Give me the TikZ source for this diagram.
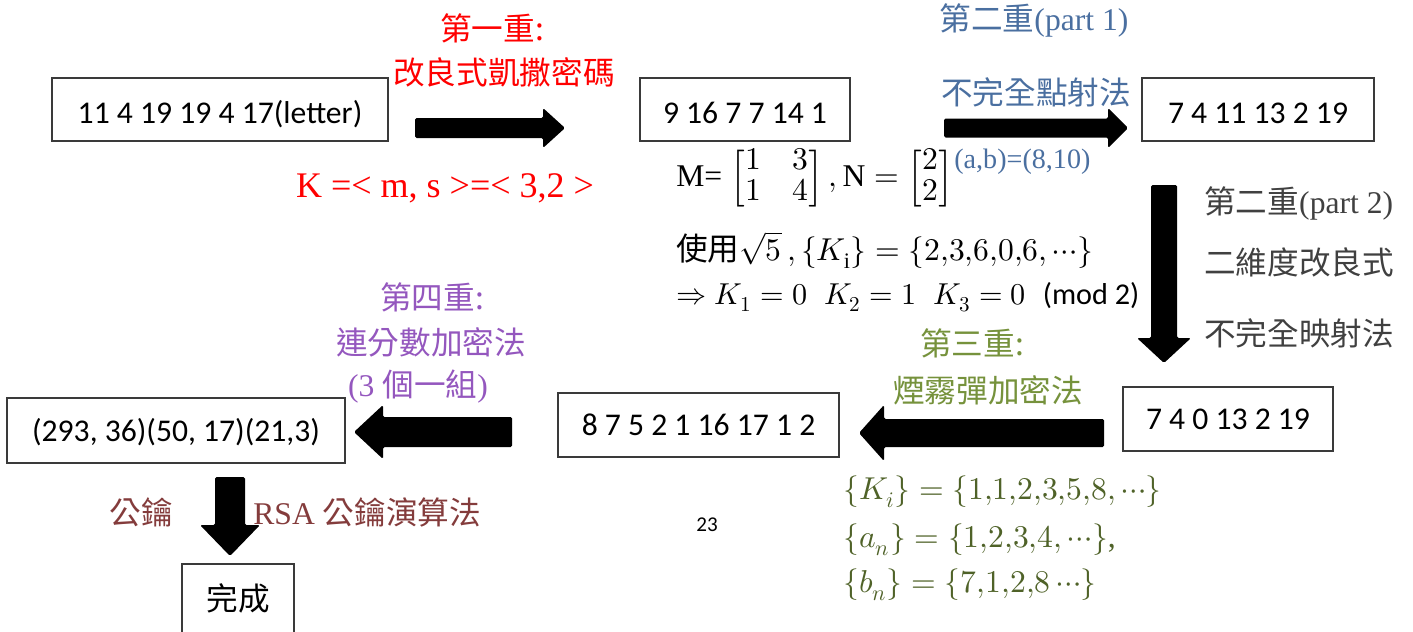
\documentclass[tikz,border=0pt]{standalone}
\usepackage{fontspec}
\usepackage{amsmath}
\usepackage{unicode-math}
\setmathfont{Latin Modern Math}
\setmainfont{Liberation Serif}
\newfontfamily\cjk{Noto Sans CJK TC}
\newfontfamily\carl{Carlito}
\definecolor{redA}{HTML}{FF0000}
\definecolor{blueA}{HTML}{4A6FA0}
\definecolor{grayA}{HTML}{404040}
\definecolor{greenA}{HTML}{76923C}
\definecolor{greenB}{HTML}{4F6228}
\definecolor{purpleA}{HTML}{9457BE}
\definecolor{brownA}{HTML}{843C3C}
\definecolor{boxgray}{HTML}{3A3A3A}
\newdimen\pxu \pxu=0.02cm
% horizontal block arrow: tail x, tip x, mid y, shaft half, head half, head base x
\newcommand\harrowfill[6]{%
  \fill[blockfill] (#1,#3-#4) -- (#6,#3-#4) -- (#6,#3-#5) -- (#2,#3) -- (#6,#3+#5) -- (#6,#3+#4) -- (#1,#3+#4) -- cycle;}
% vertical block arrow: mid x, top y, tip y, shaft half, head half, head base y
\newcommand\varrowfill[6]{%
  \fill[blockfill] (#1-#4,#2) -- (#1-#4,#6) -- (#1-#5,#6) -- (#1,#3) -- (#1+#5,#6) -- (#1+#4,#6) -- (#1+#4,#2) -- cycle;}
\begin{document}
\begin{tikzpicture}[x=0.02cm,y=-0.02cm,
  databox/.style={draw=boxgray, line width=0.7pt, fill=white, inner sep=0pt,
    font=\carl\fontsize{18}{22}\selectfont, text height=13.5pt, text depth=1pt},
  topbox/.style={databox, text height=15.4pt, text depth=0pt},
  lbl/.style={inner sep=0pt, font=\fontsize{18}{22}\selectfont},
  blockfill/.style={fill=black, rounded corners=1.5\pxu}]
\useasboundingbox (0,0) rectangle (1413,632);

% boxes
\node[topbox, minimum width=336\pxu, minimum height=63\pxu] (b1) at (220,109.5) {11 4 19 19 4 17(letter)};
\node[topbox, minimum width=210\pxu, minimum height=63\pxu] (b2) at (745,109.5) {9 16 7 7 14 1};
\node[topbox, minimum width=232\pxu, minimum height=63\pxu] (b3) at (1258,109.5) {7 4 11 13 2 19};
\node[databox, minimum width=210\pxu, minimum height=64\pxu] (b4) at (1228,419) {7 4 0 13 2 19};
\node[databox, minimum width=281\pxu, minimum height=64\pxu] (b5) at (698.5,425) {8 7 5 2 1 16 17 1 2};
\node[databox, minimum width=338\pxu, minimum height=65\pxu] (b6) at (176,430.5) {(293, 36)(50, 17)(21,3)};
\node[databox, minimum width=112\pxu, minimum height=72\pxu, text height=14pt, text depth=2pt] (b7) at (238,600) {\cjk 完成};

% block arrows
\harrowfill{415}{565}{128}{10}{20}{543}
\harrowfill{944}{1128}{128}{9.5}{20}{1108}
\varrowfill{1164}{185}{363}{13}{27}{338}
\harrowfill{1104}{859}{433}{14}{28}{884}
\harrowfill{512}{354}{432}{15}{27}{383}
\varrowfill{230}{477}{556}{15}{30}{525}

% first stage (red)
\node[lbl, text=redA] (l1a) at (492,28) {\cjk 第一重:};
\node[lbl, text=redA] (l1b) at (504,73) {\cjk 改良式凱撒密碼};
\node[lbl, text=redA, font=\fontsize{20.5}{24}\selectfont] (l1c) at (445,188) {K =< m, s >=< 3,2 >};

% second stage part 1 (blue)
\node[lbl, text=blueA] (l2a) at (1034,20) {{\cjk 第二重}(part 1)};
\node[lbl, text=blueA] (l2b) at (1036,92) {\cjk 不完全點射法};

% matrices and keys
\node[lbl, anchor=west] (m1) at (676,179) {M= {\setlength\arraycolsep{9pt}\renewcommand\arraystretch{0.78}$\begin{bmatrix}1&3\\1&4\end{bmatrix},\mathrm{N}=\begin{bmatrix}2\\2\end{bmatrix}$}};
\node[lbl, anchor=west, text=blueA, font=\fontsize{16}{19}\selectfont] (m1b) at (954,162) {(a,b)=(8,10)};
\node[lbl, anchor=west] (m2) at (676,250) {{\cjk 使用}$\sqrt{5}\,,\{K_{\mathrm{i}}\} = \{2{,}3{,}6{,}0{,}6,\cdots\}$};
\node[lbl, anchor=west, font=\fontsize{17.2}{20}\selectfont] (m3) at (676,297) {$\Rightarrow K_1 = 0\;\; K_2 = 1\;\; K_3 = 0$\;\;{\carl (mod 2)}};

% second stage part 2 (gray)
\node[lbl, anchor=west, text=grayA] (l2c) at (1204,203) {{\cjk 第二重}(part 2)};
\node[lbl, anchor=west, text=grayA] (l2d) at (1204,262) {\cjk 二維度改良式};
\node[lbl, anchor=west, text=grayA] (l2e) at (1204,333) {\cjk 不完全映射法};

% third stage (green)
\node[lbl, text=greenA] (l3a) at (972,343) {\cjk 第三重:};
\node[lbl, text=greenA] (l3b) at (988,390) {\cjk 煙霧彈加密法};
\node[lbl, anchor=west, text=greenB] (g1) at (843,492) {$\{K_i\} = \{1{,}1{,}2{,}3{,}5{,}8,\cdots\}$};
\node[lbl, anchor=west, text=greenB] (g2) at (843,540) {$\{a_n\} = \{1{,}2{,}3{,}4,\cdots\}$,};
\node[lbl, anchor=west, text=greenB] (g3) at (843,585) {$\{b_n\} = \{7{,}1{,}2{,}8\cdots\}$};

% page number
\node[inner sep=0pt, font=\carl\fontsize{12}{14}\selectfont] (pg) at (707,525) {23};

% fourth stage (purple)
\node[lbl, text=purpleA] (l4a) at (432,297) {\cjk 第四重:};
\node[lbl, text=purpleA] (l4b) at (431,342) {\cjk 連分數加密法};
\node[lbl, text=purpleA] (l4c) at (418,387) {(3 {\cjk 個一組})};

% RSA (brown)
\node[lbl, text=brownA] (l5a) at (141,512) {\cjk 公鑰};
\node[lbl, anchor=west, text=brownA] (l5b) at (253,512) {RSA {\cjk 公鑰演算法}};
\end{tikzpicture}
\end{document}
